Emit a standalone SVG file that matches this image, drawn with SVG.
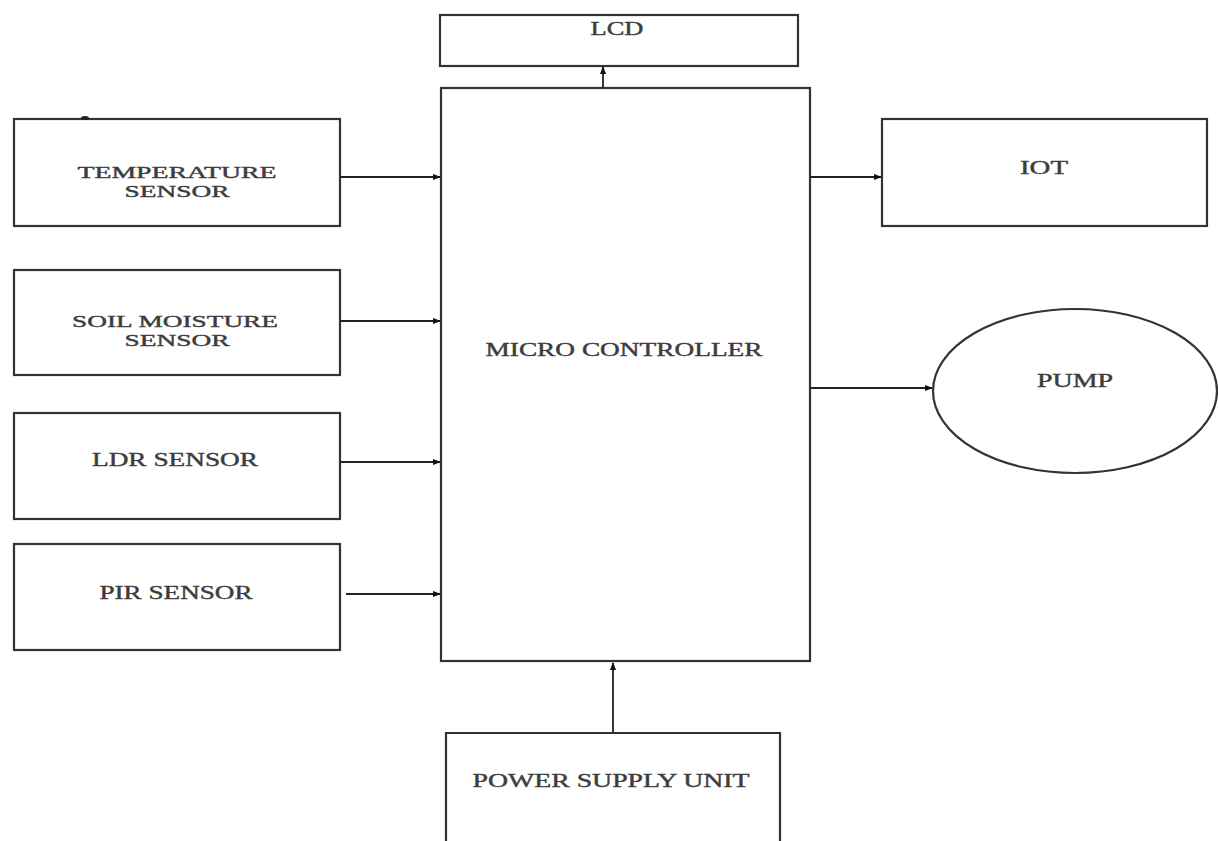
<svg xmlns="http://www.w3.org/2000/svg" width="1218" height="841" viewBox="0 0 1218 841">
<style>
.box{fill:#fff;stroke:#333;stroke-width:2.2}
.lbl{font-family:"Liberation Serif","Times New Roman",serif;font-size:19px;fill:#3c3c3c;text-anchor:middle;stroke:#3c3c3c;stroke-width:0.4}
.sm{font-size:17px}
.con{stroke:#222;stroke-width:1.8;fill:none;marker-end:url(#ah)}
</style>
<defs>
<marker id="ah" markerWidth="8" markerHeight="7" refX="7" refY="3.5" orient="auto" markerUnits="userSpaceOnUse">
<path d="M0,0.5 L8,3.5 L0,6.5 Z" fill="#111"/>
</marker>
</defs>
<rect width="1218" height="841" fill="#fff"/>
<g id="lcd">
<rect class="box" x="440" y="15" width="358" height="51"/>
<text class="lbl" x="617" y="35" textLength="53" lengthAdjust="spacingAndGlyphs">LCD</text>
</g>
<g id="micro-controller">
<rect class="box" x="441" y="88" width="369" height="573" stroke-width="2.8"/>
<text class="lbl" x="624" y="356" textLength="277" lengthAdjust="spacingAndGlyphs">MICRO CONTROLLER</text>
</g>
<g id="temperature-sensor">
<rect class="box" x="14" y="119" width="326" height="107"/>
<ellipse cx="85" cy="118" rx="4" ry="2" fill="#222"/>
<text class="lbl sm" x="177" y="178" textLength="199" lengthAdjust="spacingAndGlyphs">TEMPERATURE</text>
<text class="lbl sm" x="177" y="197" textLength="105" lengthAdjust="spacingAndGlyphs">SENSOR</text>
</g>
<g id="soil-moisture-sensor">
<rect class="box" x="14" y="270" width="326" height="105"/>
<text class="lbl sm" x="175" y="327" textLength="206" lengthAdjust="spacingAndGlyphs">SOIL MOISTURE</text>
<text class="lbl sm" x="177" y="346" textLength="105" lengthAdjust="spacingAndGlyphs">SENSOR</text>
</g>
<g id="ldr-sensor">
<rect class="box" x="14" y="413" width="326" height="106"/>
<text class="lbl" x="175" y="466" textLength="166" lengthAdjust="spacingAndGlyphs">LDR SENSOR</text>
</g>
<g id="pir-sensor">
<rect class="box" x="14" y="544" width="326" height="106"/>
<text class="lbl" x="176" y="599" textLength="153" lengthAdjust="spacingAndGlyphs">PIR SENSOR</text>
</g>
<g id="iot">
<rect class="box" x="882" y="119" width="325" height="107"/>
<text class="lbl" x="1044" y="174" textLength="48" lengthAdjust="spacingAndGlyphs">IOT</text>
</g>
<g id="pump">
<ellipse class="box" cx="1075" cy="391" rx="142" ry="82"/>
<text class="lbl" x="1075" y="387" textLength="76" lengthAdjust="spacingAndGlyphs">PUMP</text>
</g>
<g id="power-supply-unit">
<path class="box" d="M446,845 L446,733 L780,733 L780,845"/>
<text class="lbl" x="611" y="787" textLength="277" lengthAdjust="spacingAndGlyphs">POWER SUPPLY UNIT</text>
</g>
<g id="connectors">
<line class="con" x1="603" y1="88" x2="603" y2="67"/>
<line class="con" x1="340" y1="177" x2="440" y2="177"/>
<line class="con" x1="340" y1="321" x2="440" y2="321"/>
<line class="con" x1="340" y1="462" x2="440" y2="462"/>
<line class="con" x1="346" y1="594" x2="440" y2="594"/>
<line class="con" x1="810" y1="177" x2="881" y2="177"/>
<line class="con" x1="810" y1="388" x2="932" y2="388"/>
<line class="con" x1="613" y1="733" x2="613" y2="663" stroke-width="2.4"/>
</g>
</svg>
